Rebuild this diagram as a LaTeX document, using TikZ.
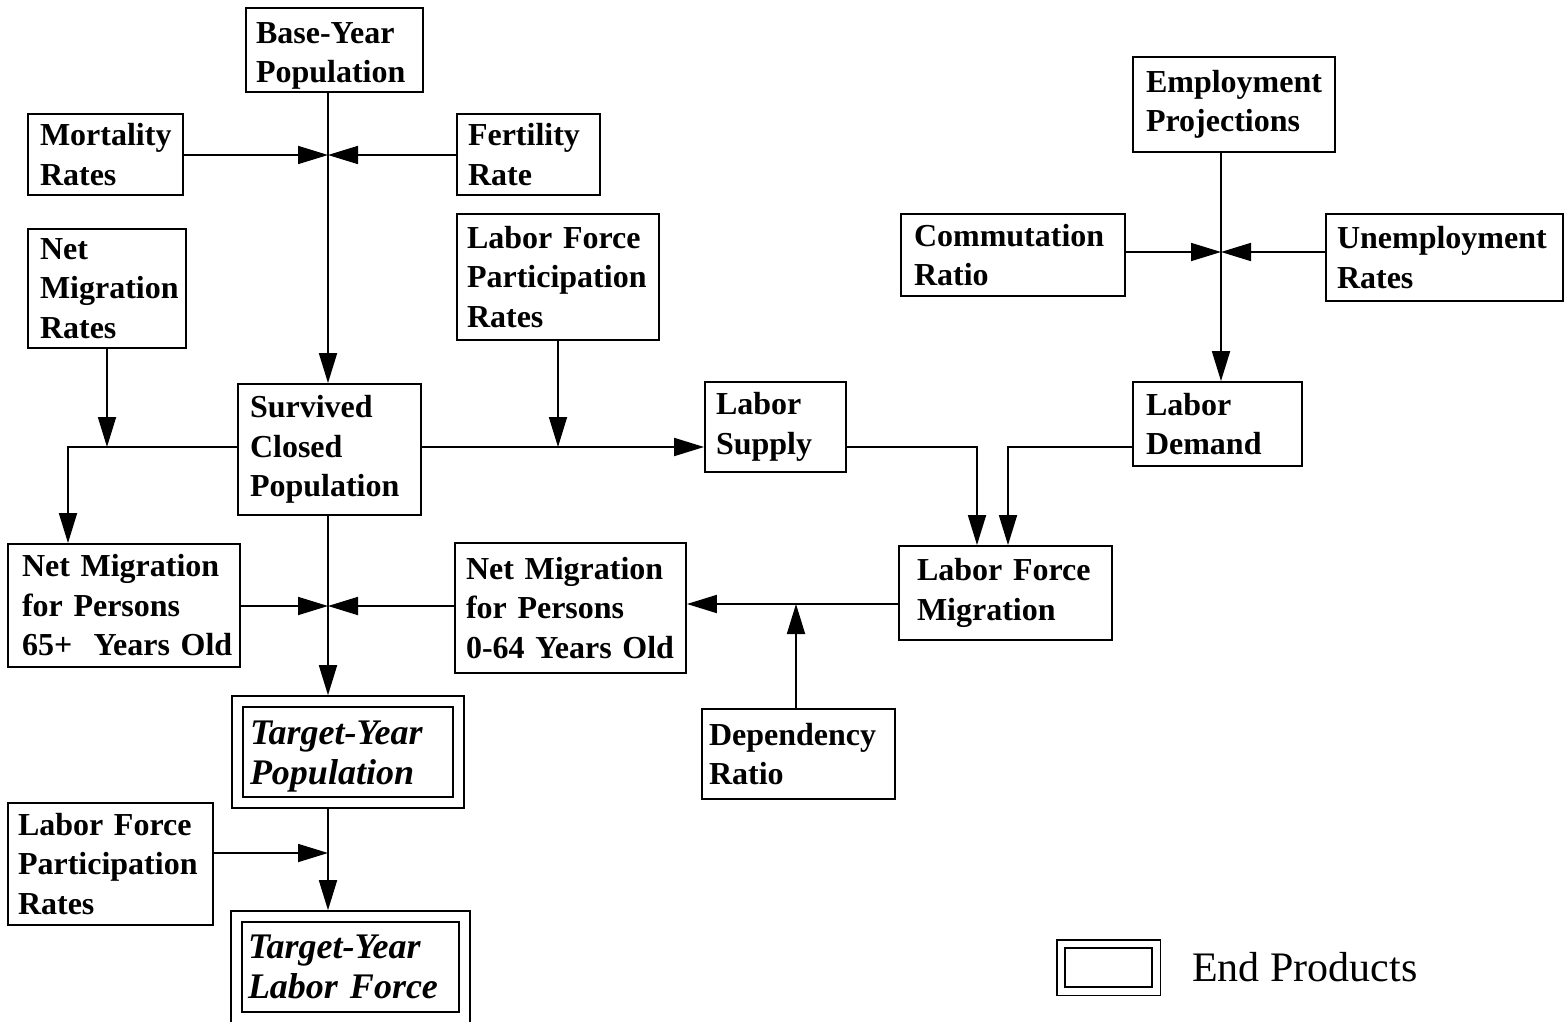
\documentclass[tikz,border=0pt]{standalone}
\usepackage{fontspec}
\setmainfont{Liberation Serif}
\usetikzlibrary{arrows.meta,fit}
\begin{document}
\begin{tikzpicture}[x=1pt,y=-1pt,
  bx/.style={draw, line width=1.8pt, rectangle, align=left, inner xsep=11pt, inner ysep=0pt,
    font=\fontsize{32}{39.5}\selectfont\bfseries},
  endbx/.style={draw, line width=1.8pt, rectangle, align=left, inner ysep=0pt,
    font=\fontsize{36}{40}\selectfont\bfseries\itshape},
  outer/.style={draw, line width=1.8pt, rectangle, inner sep=10pt},
  arr/.style={line width=1.8pt, -{Triangle[length=30pt,width=18pt]}},
  ln/.style={line width=1.8pt}]
\fill[white] (0,0) rectangle (1564,1022);
\useasboundingbox (0,0) rectangle (1564,1022);

% boxes
\node[bx, inner xsep=10pt, text width=157pt, minimum height=84pt] (base) at (334.5,50) {\rule{0pt}{33pt}Base-Year\\Population};
\node[bx, inner xsep=12pt, text width=131pt, minimum height=81pt] (mort) at (105.5,154.5) {Mortality\\Rates};
\node[bx, text width=121pt, minimum height=81pt] (fert) at (528.5,154.5) {Fertility\\Rate};
\node[bx, inner xsep=12pt, text width=134pt, minimum height=119pt] (netmr) at (107,288.5) {Net\\Migration\\Rates};
\node[bx, inner xsep=10pt, text width=182pt, minimum height=126pt] (lfpr1) at (558,277) {Labor~Force\\Participation\\Rates};
\node[bx, inner xsep=12pt, text width=159pt, minimum height=131pt] (surv) at (329.5,449.5) {Survived\\Closed\\Population};
\node[bx, text width=119pt, minimum height=90pt] (supply) at (775.5,427) {Labor\\Supply};
\node[bx, inner xsep=13pt, text width=176pt, minimum height=95pt] (emp) at (1234,104.5) {Employment\\Projections};
\node[bx, inner xsep=13pt, text width=198pt, minimum height=82pt] (comm) at (1013,255) {Commutation\\Ratio};
\node[bx, text width=215pt, minimum height=87pt] (unemp) at (1444.5,257.5) {Unemployment\\Rates};
\node[bx, inner xsep=13pt, text width=143pt, minimum height=84pt] (demand) at (1217.5,424) {Labor\\Demand};
\node[bx, inner xsep=14pt, text width=204pt, minimum height=123pt] (nm65) at (124,605.5) {Net~Migration\\for~Persons\\65+~~Years~Old};
\node[bx, text width=209pt, minimum height=130pt] (nm064) at (570.5,608) {Net~Migration\\for~Persons\\0-64~Years~Old};
\node[bx, inner xsep=18pt, text width=177pt, minimum height=94pt] (lfm) at (1005.5,593) {Labor~Force\\Migration};
\node[bx, inner xsep=7pt, text width=179pt, minimum height=90pt] (dep) at (798.5,754) {Dependency\\Ratio};
\node[bx, inner xsep=10pt, text width=185pt, minimum height=122pt] (lfpr2) at (110.5,864) {Labor~Force\\Participation\\Rates};

% end products
\node[endbx, inner xsep=7pt, text width=196pt, minimum height=90pt] (typop) at (348,752) {\rule{0pt}{33pt}Target-Year\\Population};
\node[outer, fit=(typop)] (typopO) {};
\node[endbx, inner xsep=6pt, text width=205pt, minimum height=90pt] (tylf) at (350.5,967) {Target-Year\\Labor~Force};
\node[outer, fit=(tylf)] (tylfO) {};

% legend
\node[draw, line width=1.8pt, minimum width=87pt, minimum height=39pt, inner sep=0pt] (legI) at (1108.5,967.5) {};
\node[draw, line width=1.8pt, inner sep=7.5pt, fit=(legI)] (legO) {};
\node[anchor=base west, inner sep=0pt, font=\fontsize{42}{50}\selectfont] (legtxt) at (1192,981) {End Products};

% junction coordinates
\coordinate (X1) at (328,155);
\coordinate (row1) at (0,447);
\coordinate (cL) at (68,447);
\coordinate (row2) at (0,606);
\coordinate (row3) at (0,604);
\coordinate (cD) at (796,604);
\coordinate (cS) at (977,447);
\coordinate (cT) at (1008,447);
\coordinate (X2) at (1221,252);
\coordinate (cP) at (328,853);

% connectors
\draw[arr] (base.south -| X1) -- (surv.north -| X1);
\draw[arr] (mort.east |- X1) -- (X1);
\draw[arr] (fert.west |- X1) -- (X1);
\draw[arr] (netmr.south) -- (netmr.south |- row1);
\draw[arr] (surv.west |- row1) -- (cL) -- (cL |- nm65.north);
\draw[arr] (surv.east |- row1) -- (supply.west |- row1);
\draw[arr] (lfpr1.south) -- (lfpr1.south |- row1);
\draw[arr] (surv.south -| X1) -- (typopO.north -| X1);
\draw[arr] (nm65.east |- row2) -- (row2 -| X1);
\draw[arr] (nm064.west |- row2) -- (row2 -| X1);
\draw[arr] (lfm.west |- row3) -- (nm064.east |- row3);
\draw[arr] (dep.north -| cD) -- (cD);
\draw[arr] (supply.east |- cS) -- (cS) -- (cS |- lfm.north);
\draw[arr] (demand.west |- cT) -- (cT) -- (cT |- lfm.north);
\draw[arr] (emp.south -| X2) -- (demand.north -| X2);
\draw[arr] (comm.east |- X2) -- (X2);
\draw[arr] (unemp.west |- X2) -- (X2);
\draw[arr] (typopO.south -| X1) -- (tylfO.north -| X1);
\draw[arr] (lfpr2.east |- cP) -- (cP);
\end{tikzpicture}
\end{document}
